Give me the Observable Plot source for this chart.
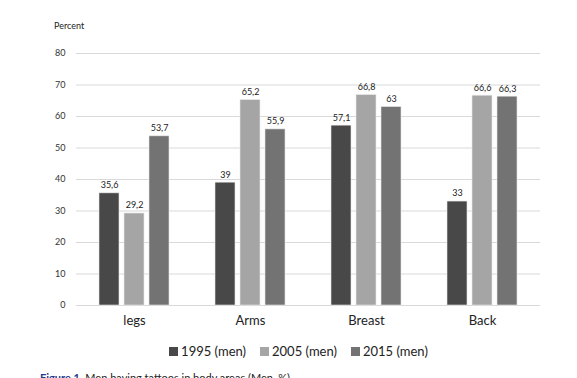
<!DOCTYPE html>
<html>
<head>
<meta charset="utf-8">
<script src="https://cdn.jsdelivr.net/npm/d3@7"></script>
<script src="https://cdn.jsdelivr.net/npm/@observablehq/plot@0.6"></script>
<style>
  html, body { margin: 0; padding: 0; background: #fff; overflow: hidden; }
  body { width: 577px; height: 378px; position: relative; font-family: Lato, "Open Sans", sans-serif; }
  #percent { position: absolute; left: 54px; top: 20px; font-size: 9px; color: #222; }
  #chart { position: absolute; left: 0; top: 0; }
  #legend { position: absolute; top: 343px; left: 0; width: 577px; display: flex; justify-content: center; gap: 14px; font-size: 13px; color: #222; padding-left: 20px; box-sizing: border-box; }
  #legend span.item { display: flex; align-items: center; }
  #legend span.sw { display: inline-block; width: 9px; height: 9px; margin-right: 3px; }
  #caption { position: absolute; top: 371px; left: 40px; font-size: 11px; color: #222; white-space: nowrap; }
  #caption b { color: #1f3a8a; }
</style>
</head>
<body>
<div id="percent">Percent</div>
<div id="chart"></div>
<div id="legend"></div>
<div id="caption"><b>Figure 1.</b> Men having tattoos in body areas (Men, %)</div>
<script>
const categories = ["legs", "Arms", "Breast", "Back"];
const seriesNames = ["1995 (men)", "2005 (men)", "2015 (men)"];
const values1995 = [35.6, 39, 57.1, 33];
const values2005 = [29.2, 65.2, 66.8, 66.6];
const values2015 = [53.7, 55.9, 63, 66.3];
const yTicks = [0, 10, 20, 30, 40, 50, 60, 70, 80];
const colors = ["#484848", "#a5a5a5", "#737373"];

const allValues = [values1995, values2005, values2015];
const data = [];
categories.forEach((c, i) => {
  seriesNames.forEach((s, j) => {
    data.push({category: c, series: s, value: allValues[j][i]});
  });
});

const fmt = v => String(v).replace(".", ",");

const chart = Plot.plot({
  width: 577,
  height: 335,
  marginLeft: 76,
  marginRight: 37,
  marginTop: 53,
  marginBottom: 30,
  style: {fontFamily: "Lato, 'Open Sans', sans-serif", background: "transparent"},
  fx: {domain: categories, padding: 0, label: null},
  x: {domain: seriesNames, paddingInner: 0.2, paddingOuter: 0.88, axis: null},
  y: {domain: [0, 80], label: null},
  color: {domain: seriesNames, range: colors},
  marks: [
    Plot.ruleY(yTicks, {stroke: "#d9d9d9", strokeWidth: 1}),
    Plot.axisY(yTicks, {tickSize: 0, tickPadding: 11, fontSize: 9, fill: "#333", label: null}),
    Plot.axisFx({tickSize: 0, tickPadding: 10, fontSize: 13, fill: "#222", label: null, anchor: "bottom"}),
    Plot.barY(data, {fx: "category", x: "series", y: "value", fill: "series", stroke: "#e6e6e6", strokeWidth: 0.6}),
    Plot.text(data, {fx: "category", x: "series", y: "value", text: d => fmt(d.value), dy: -8, fontSize: 9, fill: "#222"})
  ]
});
document.getElementById("chart").appendChild(chart);

const legend = document.getElementById("legend");
seriesNames.forEach((s, j) => {
  const item = document.createElement("span");
  item.className = "item";
  const sw = document.createElement("span");
  sw.className = "sw";
  sw.style.background = colors[j];
  item.appendChild(sw);
  item.appendChild(document.createTextNode(s));
  legend.appendChild(item);
});
</script>
</body>
</html>
